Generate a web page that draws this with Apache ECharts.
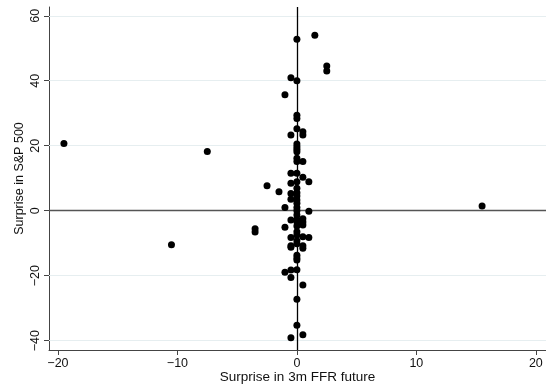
<!DOCTYPE html>
<html>
<head>
<meta charset="utf-8">
<script src="https://cdn.jsdelivr.net/npm/echarts@6/dist/echarts.min.js"></script>
<style>
  html, body { margin: 0; padding: 0; background: #fff; }
  #chart { width: 546px; height: 386px; }
</style>
</head>
<body>
<div id="chart"></div>
<script>
// surprise in 3m FFR future (x) and S&P 500 (y), one entry per event
var ffrSurprise = [
  -19.5, -7.5, -10.5, 15.5, -3.5, -3.5, -2.5, -1.5,
  0, 1.5, 2.5, 2.5, -0.5, 0, -1.0, 0, 0, 0,
  0.5, 0.5, -0.5, 0, 0, 0, 0, 0, 0, 0.5,
  -0.5, 0, 0.5, 1.0, -0.5, 0,
  -0.5, -0.5, 0, 0, 0, 0,
  -1.0, 0, 0, 0, 1.0,
  0, 0, -0.5, 0.5, 0.5,
  -1.0, 0, 0.5, 0, 0, 0,
  -0.5, 0.5, 1.0,
  0, 0, -0.5, -0.5, 0.5, 0.5,
  0, 0, 0,
  -1.0, -0.5, 0, -0.5, 0.5,
  0, 0, 0.5, -0.5
];
var spSurprise = [
  20.7, 18.2, -10.5, 1.4, -5.6, -6.6, 7.7, 5.8,
  52.8, 54.0, 44.5, 43.0, 40.9, 40.0, 35.7, 29.4, 28.4, 25.2,
  24.3, 23.3, 23.3, 20.5, 19.7, 18.9, 18.1, 16.1, 15.1, 15.1,
  11.5, 11.5, 10.3, 8.9, 8.4, 8.9,
  5.3, 3.5, 6.9, 5.5, 4.5, 3.3,
  1.0, 2.3, 1.0, 0, -0.2,
  -1.3, -2.7, -2.9, -2.5, -3.5,
  -5.1, -4.7, -4.4, -3.4, -6.5, -7.5,
  -8.3, -8.0, -8.3,
  -9.3, -10.2, -10.8, -11.3, -10.8, -11.6,
  -13.7, -14.6, -15.2,
  -19.0, -18.3, -18.2, -20.6, -22.9,
  -27.3, -35.3, -38.2, -39.1
];
var xTicks = [-20, -10, 0, 10, 20];
var yTicks = [-40, -20, 0, 20, 40, 60];

var points = ffrSurprise.map(function (x, i) { return [x, spSurprise[i]]; });

function minusSign(v) {
  return String(v).replace('-', '\u2212');
}

var chart = echarts.init(document.getElementById('chart'));

// light grid lines, dark y = 0 line, black x = 0 line
var gridLines = yTicks.filter(function (v) { return v !== 0; }).map(function (v) {
  return { yAxis: v, lineStyle: { color: '#e6eef0', width: 1, type: 'solid' } };
});
gridLines.push({ yAxis: 0, lineStyle: { color: '#555', width: 1.3, type: 'solid' } });
gridLines.push({ xAxis: 0, lineStyle: { color: '#000', width: 1.3, type: 'solid' } });

var option = {
  backgroundColor: '#fff',
  animation: false,
  grid: { left: 49, right: 0, top: 7, bottom: 36, outerBoundsMode: 'none', containLabel: false },
  xAxis: {
    type: 'value',
    min: -20.75,
    max: 20.85,
    name: 'Surprise in 3m FFR future',
    nameLocation: 'middle',
    nameGap: 20,
    nameMoveOverlap: false,
    nameTextStyle: { fontFamily: 'Liberation Sans', fontSize: 13.5, color: '#111' },
    axisLine: { onZero: false, lineStyle: { color: '#444', width: 1 } },
    axisTick: { show: true, length: 5, customValues: xTicks, lineStyle: { color: '#444' } },
    axisLabel: {
      customValues: xTicks,
      margin: 7,
      fontFamily: 'Liberation Sans',
      fontSize: 12.5,
      color: '#111',
      formatter: minusSign
    },
    splitLine: { show: false }
  },
  yAxis: {
    type: 'value',
    min: -42.9,
    max: 62.7,
    name: 'Surprise in S&P 500',
    nameLocation: 'middle',
    nameGap: 23,
    nameMoveOverlap: false,
    nameTextStyle: { fontFamily: 'Liberation Sans', fontSize: 12.5, color: '#111' },
    axisLine: { onZero: false, lineStyle: { color: '#444', width: 1 } },
    axisTick: { show: true, length: 5, customValues: yTicks, lineStyle: { color: '#444' } },
    axisLabel: {
      customValues: yTicks,
      rotate: 90,
      margin: 7,
      fontFamily: 'Liberation Sans',
      fontSize: 12.5,
      color: '#111',
      formatter: minusSign
    },
    splitLine: { show: false }
  },
  series: [{
    type: 'scatter',
    data: points,
    symbol: 'circle',
    symbolSize: 7,
    z: 10,
    itemStyle: { color: '#000', opacity: 1 },
    markLine: {
      silent: true,
      symbol: 'none',
      label: { show: false },
      z: 1,
      data: gridLines
    }
  }]
};

chart.setOption(option);
</script>
</body>
</html>
